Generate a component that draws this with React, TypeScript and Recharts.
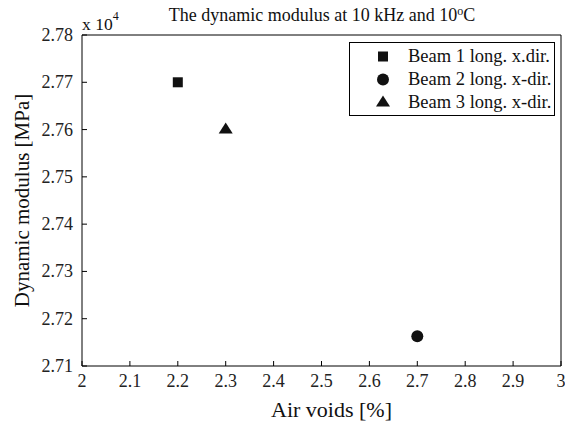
import { ScatterChart, Scatter, XAxis, YAxis } from "recharts";

const seriesNames = ["Beam 1 long. x.dir.", "Beam 2 long. x-dir.", "Beam 3 long. x-dir."];
const airVoids = [2.2, 2.7, 2.3];
const modulus = [27700, 27163, 27600];
const xTicks = [2, 2.1, 2.2, 2.3, 2.4, 2.5, 2.6, 2.7, 2.8, 2.9, 3];
const yTicks = [27100, 27200, 27300, 27400, 27500, 27600, 27700, 27800];

const FONT = "'Liberation Serif', 'Times New Roman', serif";
const markerKinds = ["square", "circle", "triangle"];

function Marker({ kind, cx, cy }: { kind: string; cx: number; cy: number }) {
  if (kind === "square") return <rect x={cx - 5} y={cy - 5} width={10} height={10} fill="#111" />;
  if (kind === "circle") return <circle cx={cx} cy={cy} r={6} fill="#111" />;
  return <polygon points={`${cx},${cy - 7} ${cx + 7},${cy + 4} ${cx - 7},${cy + 4}`} fill="#111" />;
}

const tickText = { fontFamily: FONT, fontSize: 18, fill: "#222" };

const renderXTick = (p: any) => (
  <text key={p.index} x={p.x} y={p.y} dy={15} textAnchor="middle" style={tickText}>
    {p.payload.value}
  </text>
);

const renderYTick = (p: any) => (
  <text key={p.index} x={p.x} y={p.y} dy={6} textAnchor="end" style={tickText}>
    {(p.payload.value / 1e4).toFixed(2)}
  </text>
);

function LegendBox() {
  return (
    <div
      style={{
        position: "absolute",
        left: 349,
        top: 42,
        width: 204,
        height: 70,
        border: "1px solid #000",
        background: "#fff",
        fontFamily: FONT,
        fontSize: 18.5,
        color: "#111",
        paddingTop: 2,
        boxSizing: "content-box",
      }}
    >
      {seriesNames.map((n, i) => (
        <div key={n} style={{ display: "flex", alignItems: "center", height: 23, whiteSpace: "nowrap" }}>
          <svg width={58} height={23} style={{ flexShrink: 0 }}>
            <Marker kind={markerKinds[i]} cx={33} cy={11.5} />
          </svg>
          <span>{n}</span>
        </div>
      ))}
    </div>
  );
}

export default function App() {
  const frameData = airVoids.map((x, i) => ({ x, y: modulus[i] }));
  return (
    <div style={{ position: "absolute", left: 0, top: 0, fontFamily: FONT }}>
      <ScatterChart width={565} height={422} margin={{ top: 34, right: 3, bottom: 26, left: 22 }}>
        <text x={322} y={21} textAnchor="middle" style={{ fontFamily: FONT, fontSize: 18 }} fill="#111">
          The dynamic modulus at 10 kHz and 10
          <tspan dy={-6} fontSize={12}>o</tspan>
          <tspan dy={6}>C</tspan>
        </text>
        <text x={82} y={30} style={{ fontFamily: FONT, fontSize: 17.5 }} fill="#111">
          x 10
          <tspan dy={-10} fontSize={12}>4</tspan>
        </text>
        <XAxis
          type="number"
          dataKey="x"
          domain={[2, 3]}
          ticks={xTicks}
          tickSize={-5}
          tickMargin={11}
          height={30}
          stroke="#000"
          tick={renderXTick}
          interval={0}
          label={{
            value: "Air voids [%]",
            position: "center",
            dx: 10,
            dy: 28,
            style: { fontFamily: FONT, fontSize: 22, fill: "#111" },
          }}
        />
        <XAxis
          xAxisId="top"
          orientation="top"
          type="number"
          dataKey="x"
          domain={[2, 3]}
          ticks={xTicks}
          tickSize={-5}
          height={1}
          stroke="#000"
          tick={false}
          interval={0}
        />
        <YAxis
          type="number"
          dataKey="y"
          domain={[27100, 27800]}
          ticks={yTicks}
          tickSize={-5}
          tickMargin={14}
          width={60}
          stroke="#000"
          tick={renderYTick}
          interval={0}
          label={{
            value: "Dynamic modulus [MPa]",
            angle: -90,
            position: "center",
            dx: -30,
            style: { fontFamily: FONT, fontSize: 21, fill: "#111", textAnchor: "middle" },
          }}
        />
        <YAxis
          yAxisId="right"
          orientation="right"
          type="number"
          dataKey="y"
          domain={[27100, 27800]}
          ticks={yTicks}
          tickSize={-5}
          width={1}
          stroke="#000"
          tick={false}
          interval={0}
        />
        <Scatter
          xAxisId="top"
          yAxisId="right"
          data={frameData}
          isAnimationActive={false}
          legendType="none"
          shape={() => <g />}
        />
        {seriesNames.map((n, i) => (
          <Scatter
            key={n}
            name={n}
            data={[{ x: airVoids[i], y: modulus[i] }]}
            isAnimationActive={false}
            shape={(p: any) => <Marker kind={markerKinds[i]} cx={p.cx} cy={p.cy} />}
          />
        ))}
      </ScatterChart>
      <LegendBox />
    </div>
  );
}
